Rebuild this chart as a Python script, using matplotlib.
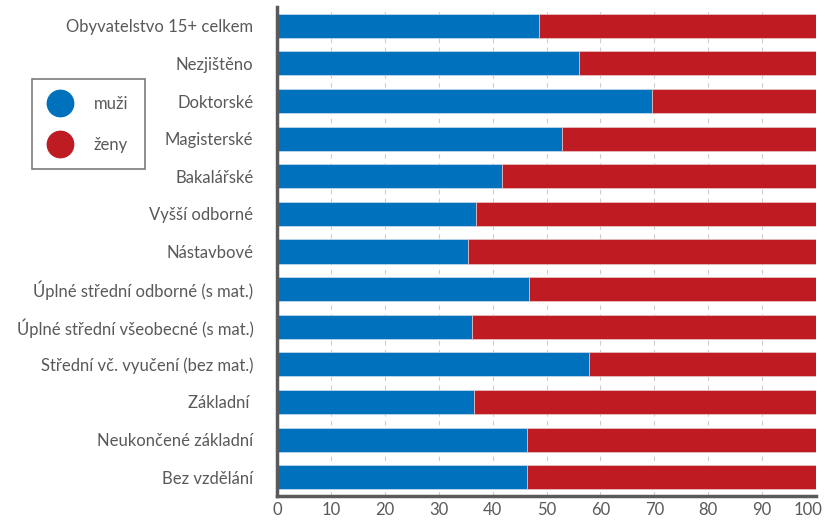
import matplotlib
matplotlib.use('Agg')
import matplotlib.pyplot as plt
import matplotlib.transforms as mtransforms
from matplotlib.lines import Line2D

plt.rcParams['font.family'] = ['Lato', 'DejaVu Sans']

categories = ['Obyvatelstvo 15+ celkem', 'Nezjištěno', 'Doktorské', 'Magisterské',
              'Bakalářské', 'Vyšší odborné', 'Nástavbové',
              'Úplné střední odborné (s mat.)', 'Úplné střední všeobecné (s mat.)',
              'Střední vč. vyučení (bez mat.)', 'Základní ', 'Neukončené základní',
              'Bez vzdělání']
muzi = [48.6, 56.0, 69.5, 52.9, 41.8, 37.0, 35.4, 46.8, 36.2, 57.8, 36.6, 46.4, 46.4]
zeny = [100 - m for m in muzi]

blue = '#0071BC'
red = '#BE1C22'
grey = '#595959'

fig = plt.figure(figsize=(8.25, 5.22), dpi=100)
ax = fig.add_axes([0.3358, 0.0498, 0.6533, 0.9368])

y = list(range(len(categories)))
ax.barh(y, muzi, height=0.64, color=blue, edgecolor='#cfdde9', linewidth=0.5, zorder=2)
ax.barh(y, zeny, left=muzi, height=0.64, color=red, edgecolor='#e8c9ca', linewidth=0.5, zorder=2)

ax.set_xlim(0, 100)
ax.set_ylim(len(categories) - 0.5, -0.5)
ax.set_yticks(y)
ax.set_yticklabels(categories)
ax.set_xticks(range(0, 101, 10))

ax.xaxis.grid(True, linestyle=(0, (4, 4)), color='#cccccc', linewidth=0.8, zorder=0)
ax.set_axisbelow(True)

for s in ['top', 'right']:
    ax.spines[s].set_visible(False)
for s in ['left', 'bottom']:
    ax.spines[s].set_color('#5a5a5a')
    ax.spines[s].set_linewidth(2.5)

ax.tick_params(axis='y', length=0, pad=17, labelsize=12, labelcolor=grey)
ax.tick_params(axis='x', length=0, pad=4, labelsize=12, labelcolor=grey)

# keep "100" inside the figure
last = ax.get_xticklabels()[-1]
last.set_horizontalalignment('right')
last.set_transform(last.get_transform() + mtransforms.ScaledTranslation(6 / 100, 0, fig.dpi_scale_trans))

handles = [Line2D([], [], marker='o', linestyle='', markersize=19, color=blue),
           Line2D([], [], marker='o', linestyle='', markersize=19, color=red)]
leg = fig.legend(handles, ['muži', 'ženy'], loc='upper left',
                 bbox_to_anchor=(32 / 825, 1 - 79 / 522), borderaxespad=0,
                 frameon=True, fancybox=False, edgecolor='#5a5a5a', fontsize=12,
                 labelcolor=grey, handletextpad=1.3, labelspacing=1.5,
                 borderpad=1.0, handlelength=1.4)
leg.get_frame().set_linewidth(1.2)

fig.savefig('out.png', dpi=100)
